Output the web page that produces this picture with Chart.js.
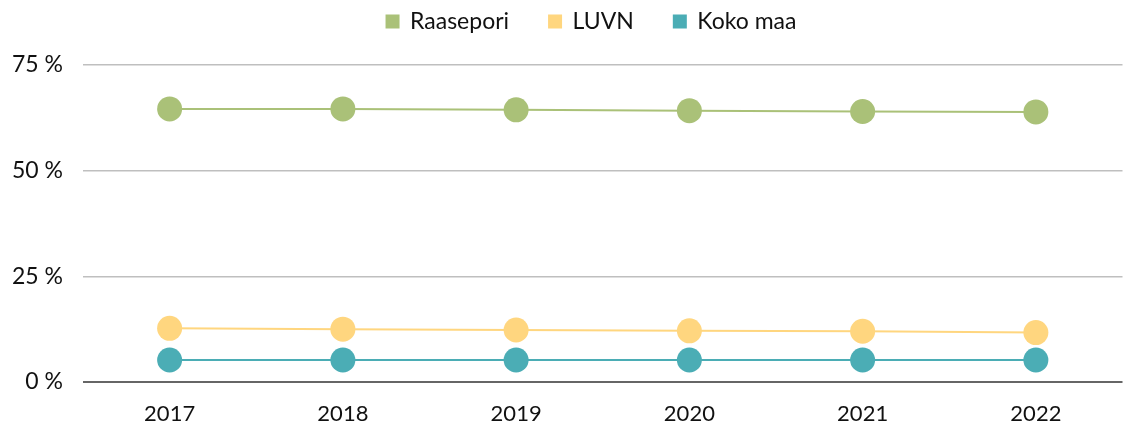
<!DOCTYPE html>
<html>
<head>
<meta charset="utf-8">
<script src="https://cdn.jsdelivr.net/npm/chart.js@4"></script>
<style>
  body { margin: 0; background: #fff; }
  canvas { display: block; }
</style>
</head>
<body>
<canvas id="myChart" width="1135" height="431"></canvas>
<script>
// data (shares in %)
const years = ["2017", "2018", "2019", "2020", "2021", "2022"];
const raasepori = [64.6, 64.6, 64.4, 64.2, 64.0, 63.9];
const luvn = [12.7, 12.5, 12.3, 12.1, 12.0, 11.7];
const kokoMaa = [5.2, 5.2, 5.2, 5.2, 5.2, 5.2];
const yTicks = [0, 25, 50, 75];

const font = "Lato, 'Open Sans', sans-serif";

const makeSet = (label, values, color) => ({
  label: label,
  data: values,
  borderColor: color,
  backgroundColor: color,
  pointBackgroundColor: color,
  pointBorderWidth: 0,
  pointRadius: 12.5,
  pointHoverRadius: 12.5,
  borderWidth: 2,
  tension: 0,
});

// legend gets a fixed height so the plot starts where it should,
// and is nudged a little to the right like in the original
const legendTweak = {
  id: "legendTweak",
  beforeInit(chart) {
    const fit = chart.legend.fit;
    chart.legend.fit = function () {
      fit.call(this);
      this.height = 95;
    };
  },
  afterLayout(chart) {
    chart.legend.left += 22;
    chart.legend.right += 22;
  },
};

const ctx = document.getElementById("myChart").getContext("2d");
new Chart(ctx, {
  type: "line",
  data: {
    labels: years,
    datasets: [
      makeSet("Raasepori", raasepori, "#aac178"),
      makeSet("LUVN", luvn, "#ffd67f"),
      makeSet("Koko maa", kokoMaa, "#4badb5"),
    ],
  },
  plugins: [legendTweak],
  options: {
    responsive: false,
    animation: false,
    layout: { padding: { top: -30, right: -4, left: 0, bottom: 0 } },
    plugins: {
      legend: {
        position: "top",
        labels: {
          boxWidth: 12,
          boxHeight: 12,
          padding: 40,
          color: "#111",
          font: { family: font, size: 23 },
        },
      },
      tooltip: { enabled: false },
    },
    scales: {
      x: {
        offset: true,
        grid: { display: false, drawTicks: false },
        border: { display: false },
        afterFit: (axis) => {
          axis.height = 49;
        },
        ticks: { color: "#111", padding: 19, font: { family: font, size: 22 } },
      },
      y: {
        min: 0,
        max: 75,
        afterBuildTicks: (axis) => {
          axis.ticks = yTicks.map((v) => ({ value: v }));
        },
        afterFit: (axis) => {
          axis.width = 83;
        },
        border: { display: false },
        grid: {
          drawTicks: false,
          color: (c) => (c.tick && c.tick.value === 0 ? "#666666" : "#bfbfbf"),
          lineWidth: (c) => (c.tick && c.tick.value === 0 ? 2 : 1.5),
        },
        ticks: {
          color: "#111",
          padding: 20,
          font: { family: font, size: 23 },
          callback: (v) => v + " %",
        },
      },
    },
  },
});
</script>
</body>
</html>
